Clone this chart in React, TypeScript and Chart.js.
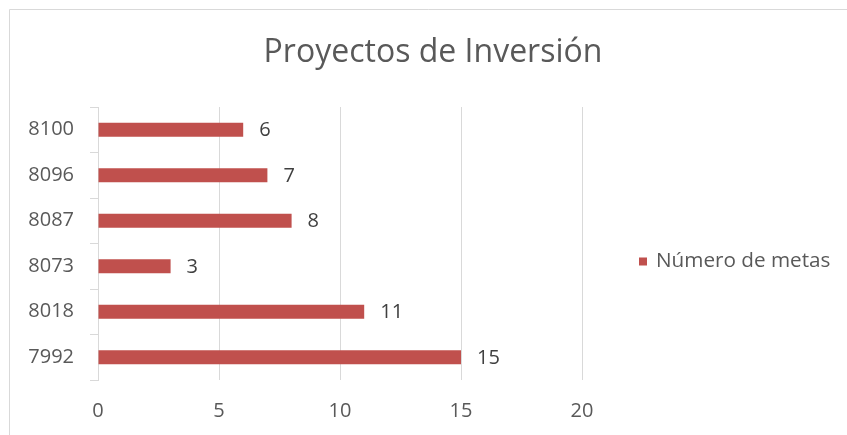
import React, { useEffect, useRef } from "react";
import { Chart, registerables } from "chart.js";

Chart.register(...registerables);

const categories = ["8100", "8096", "8087", "8073", "8018", "7992"];
const values = [6, 7, 8, 3, 11, 15];
const seriesLabel = "Número de metas";
const titleText = "Proyectos de Inversión";
const xTicks = [0, 5, 10, 15, 20];

const FONT = "'Open Sans', 'Noto Sans', sans-serif";
const GRID = "#d9d9d9";
const TEXT = "#595959";
const BAR = "#C0504D";

const borderPlugin = {
  id: "outerBorder",
  beforeDraw(chart: any) {
    const ctx = chart.ctx;
    ctx.save();
    ctx.fillStyle = "#ffffff";
    ctx.fillRect(0, 0, chart.width, chart.height);
    ctx.strokeStyle = GRID;
    ctx.lineWidth = 1;
    ctx.beginPath();
    ctx.moveTo(9.5, chart.height);
    ctx.lineTo(9.5, 9.5);
    ctx.lineTo(chart.width, 9.5);
    ctx.stroke();
    ctx.restore();
  },
};

const titlePlugin = {
  id: "centerTitle",
  afterDraw(chart: any) {
    const ctx = chart.ctx;
    ctx.save();
    ctx.font = `32px ${FONT}`;
    ctx.fillStyle = TEXT;
    ctx.textAlign = "center";
    ctx.textBaseline = "middle";
    ctx.fillText(titleText, 433, 53);
    ctx.restore();
  },
};

const labelPlugin = {
  id: "valueLabels",
  afterDatasetsDraw(chart: any) {
    const ctx = chart.ctx;
    const meta = chart.getDatasetMeta(0);
    ctx.save();
    ctx.font = `20px ${FONT}`;
    ctx.fillStyle = "#404040";
    ctx.textAlign = "left";
    ctx.textBaseline = "middle";
    meta.data.forEach((bar: any, i: number) => {
      const v = chart.data.datasets[0].data[i];
      ctx.fillText(String(v), bar.x + 16, bar.y + 1);
    });
    ctx.restore();
  },
};

const legendPlugin = {
  id: "sideLegend",
  afterDraw(chart: any) {
    const ctx = chart.ctx;
    const ds = chart.data.datasets[0];
    const cy = (chart.chartArea.top + chart.chartArea.bottom) / 2 + 18;
    ctx.save();
    ctx.fillStyle = ds.backgroundColor;
    ctx.fillRect(639, cy - 4, 8, 8);
    ctx.font = `20.7px ${FONT}`;
    ctx.fillStyle = TEXT;
    ctx.textAlign = "left";
    ctx.textBaseline = "middle";
    ctx.fillText(ds.label, 656, cy);
    ctx.restore();
  },
};

export default function App() {
  const ref = useRef<HTMLCanvasElement>(null);

  useEffect(() => {
    if (!ref.current) return;
    const chart = new Chart(ref.current, {
      type: "bar",
      data: {
        labels: categories,
        datasets: [
          {
            label: seriesLabel,
            data: values,
            backgroundColor: BAR,
            borderWidth: 0,
            categoryPercentage: 1,
            barPercentage: 0.31,
          },
        ],
      },
      options: {
        indexAxis: "y",
        responsive: false,
        animation: false,
        layout: { padding: { top: 107, right: 265, bottom: 0, left: 0 } },
        plugins: {
          legend: { display: false },
          tooltip: { enabled: false },
          title: { display: false },
        },
        scales: {
          x: {
            min: 0,
            max: 20,
            afterBuildTicks(scale: any) {
              scale.ticks = xTicks.map((v) => ({ value: v }));
            },
            afterFit(scale: any) {
              scale.height = 55;
            },
            border: { display: false },
            grid: { color: GRID, lineWidth: 1, drawTicks: false },
            ticks: {
              color: TEXT,
              padding: 19,
              font: { family: FONT, size: 20, lineHeight: 1.2 },
            },
          },
          y: {
            afterFit(scale: any) {
              scale.width = 98;
            },
            border: { display: true, color: GRID, width: 1 },
            grid: {
              offset: true,
              drawOnChartArea: false,
              drawTicks: true,
              tickLength: 8,
              color: GRID,
            },
            ticks: {
              color: TEXT,
              padding: 16,
              font: { family: FONT, size: 20, lineHeight: 1.2 },
            },
          },
        },
      },
      plugins: [borderPlugin, titlePlugin, labelPlugin, legendPlugin],
    });
    return () => chart.destroy();
  }, []);

  return (
    <canvas
      ref={ref}
      width={847}
      height={435}
      style={{ position: "fixed", left: 0, top: 0, width: 847, height: 435 }}
    />
  );
}
